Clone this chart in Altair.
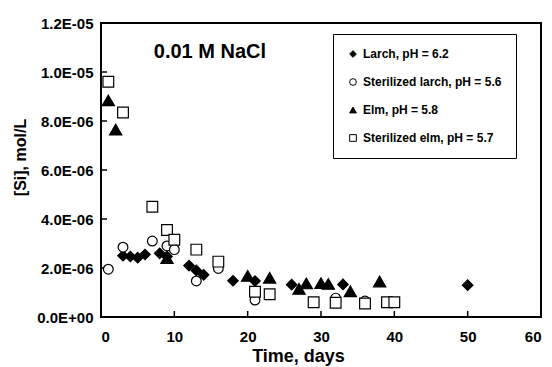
import altair as alt
import pandas as pd

# Dissolved silicon over time in 0.01 M NaCl, four wood treatments
series_names = [
    "Larch, pH = 6.2",
    "Sterilized larch, pH = 5.6",
    "Elm, pH = 5.8",
    "Sterilized elm, pH = 5.7",
]

larch_days = [3, 4, 5, 6, 8, 9, 12, 13, 14, 18, 21, 26, 33, 50]
larch_si = [2.50e-6, 2.47e-6, 2.42e-6, 2.55e-6, 2.60e-6, 2.47e-6, 2.10e-6,
            1.90e-6, 1.72e-6, 1.48e-6, 1.47e-6, 1.32e-6, 1.33e-6, 1.30e-6]

st_larch_days = [1, 3, 7, 9, 10, 13, 16, 21, 32, 36]
st_larch_si = [1.95e-6, 2.85e-6, 3.10e-6, 2.90e-6, 2.75e-6, 1.47e-6, 1.98e-6,
               0.69e-6, 0.77e-6, 0.65e-6]

elm_days = [1, 2, 9, 20, 23, 27, 28, 30, 31, 34, 38]
elm_si = [8.84e-6, 7.65e-6, 2.40e-6, 1.68e-6, 1.60e-6, 1.15e-6, 1.37e-6,
          1.38e-6, 1.35e-6, 1.05e-6, 1.45e-6]

st_elm_days = [1, 3, 7, 9, 10, 13, 16, 21, 23, 29, 32, 36, 39, 40]
st_elm_si = [9.60e-6, 8.35e-6, 4.50e-6, 3.55e-6, 3.15e-6, 2.75e-6, 2.26e-6,
             1.03e-6, 0.93e-6, 0.60e-6, 0.58e-6, 0.55e-6, 0.60e-6, 0.60e-6]

x_ticks = [0, 10, 20, 30, 40, 50, 60]
y_ticks = [0, 2e-6, 4e-6, 6e-6, 8e-6, 1.0e-5, 1.2e-5]
y_tick_labels = ["0.0E+00", "2.0E-06", "4.0E-06", "6.0E-06", "8.0E-06",
                 "1.0E-05", "1.2E-05"]

note_text = ["0.01 M NaCl"]
note_day = [14.85]
note_si = [1.083e-5]

shapes = ["diamond", "circle", "triangle-up", "square"]
fills = ["black", "white", "black", "white"]
sizes = [110, 95, 150, 115]

frames = []
for name, d, v, sz in zip(series_names,
                          [larch_days, st_larch_days, elm_days, st_elm_days],
                          [larch_si, st_larch_si, elm_si, st_elm_si], sizes):
    frames.append(pd.DataFrame({"day": d, "si": v, "series": name, "sz": sz}))
df = pd.concat(frames, ignore_index=True)
df["idx"] = range(len(df))

FONT = "Liberation Sans"
W, H = 440, 294

x_scale = alt.Scale(domain=[0, 60], nice=False)
y_scale = alt.Scale(domain=[0, 1.2e-5], nice=False)

label_expr = "[" + ",".join("'%s'" % s for s in y_tick_labels) + "][round(datum.value / 2e-6)]"

x_axis = alt.Axis(values=x_ticks, title="Time, days", titleX=197, titleY=30,
                  labelPadding=12, format="d")
y_axis = alt.Axis(values=y_ticks, title="[Si], mol/L", labelExpr=label_expr,
                  labelPadding=8, titleX=-73, titleY=134)

legend = alt.Legend(
    orient="none", legendX=232, legendY=11, title=None,
    strokeColor="black", fillColor="white", padding=14,
    labelFont=FONT, labelFontSize=12, labelFontWeight="bold", labelColor="black",
    rowPadding=16, symbolSize=45, labelOffset=4, symbolStrokeWidth=1,
)

points = alt.Chart(df).mark_point(filled=False, strokeWidth=1.2, opacity=1).encode(
    x=alt.X("day:Q", scale=x_scale, axis=x_axis),
    y=alt.Y("si:Q", scale=y_scale, axis=y_axis),
    shape=alt.Shape("series:N", scale=alt.Scale(domain=series_names, range=shapes),
                    sort=series_names, legend=legend),
    fill=alt.Fill("series:N", scale=alt.Scale(domain=series_names, range=fills),
                  sort=series_names, legend=legend),
    stroke=alt.Stroke("series:N", scale=alt.Scale(domain=series_names, range=["black"] * 4),
                      sort=series_names, legend=legend),
    size=alt.Size("sz:Q", scale=None, legend=None),
    order=alt.Order("idx:Q"),
)

y_tick_marks = alt.Chart(pd.DataFrame({"si": y_ticks})).mark_rule(
    color="black", strokeWidth=1.5).encode(
    y=alt.Y("si:Q", scale=y_scale, axis=y_axis),
    x=alt.value(0), x2=alt.value(6),
)

x_tick_marks = alt.Chart(pd.DataFrame({"day": x_ticks})).mark_rule(
    color="black", strokeWidth=1.5).encode(
    x=alt.X("day:Q", scale=x_scale, axis=x_axis),
    y=alt.value(H), y2=alt.value(H - 6),
)

note = alt.Chart(pd.DataFrame({"day": note_day, "si": note_si, "label": note_text})).mark_text(
    font=FONT, fontSize=20, fontWeight="bold", color="black", align="center",
    baseline="middle").encode(
    x=alt.X("day:Q", scale=x_scale, axis=x_axis),
    y=alt.Y("si:Q", scale=y_scale, axis=y_axis),
    text="label:N",
)

chart = alt.layer(y_tick_marks, x_tick_marks, points, note).properties(
    width=W, height=H,
    autosize=alt.AutoSizeParams(type="none"),
    padding={"left": 101, "top": 23, "right": 11, "bottom": 50},
    background="white",
).configure_view(
    stroke="black", strokeWidth=2,
).configure_axis(
    domain=False, ticks=False, tickSize=0, grid=False,
    labelFont=FONT, labelFontSize=15, labelFontWeight="bold", labelColor="black",
    titleFont=FONT, titleFontWeight="bold", titleColor="black",
).configure_axisX(
    titleFontSize=18,
).configure_axisY(
    titleFontSize=16,
)

chart.save("out.html", embed_options={"renderer": "svg", "actions": False})
